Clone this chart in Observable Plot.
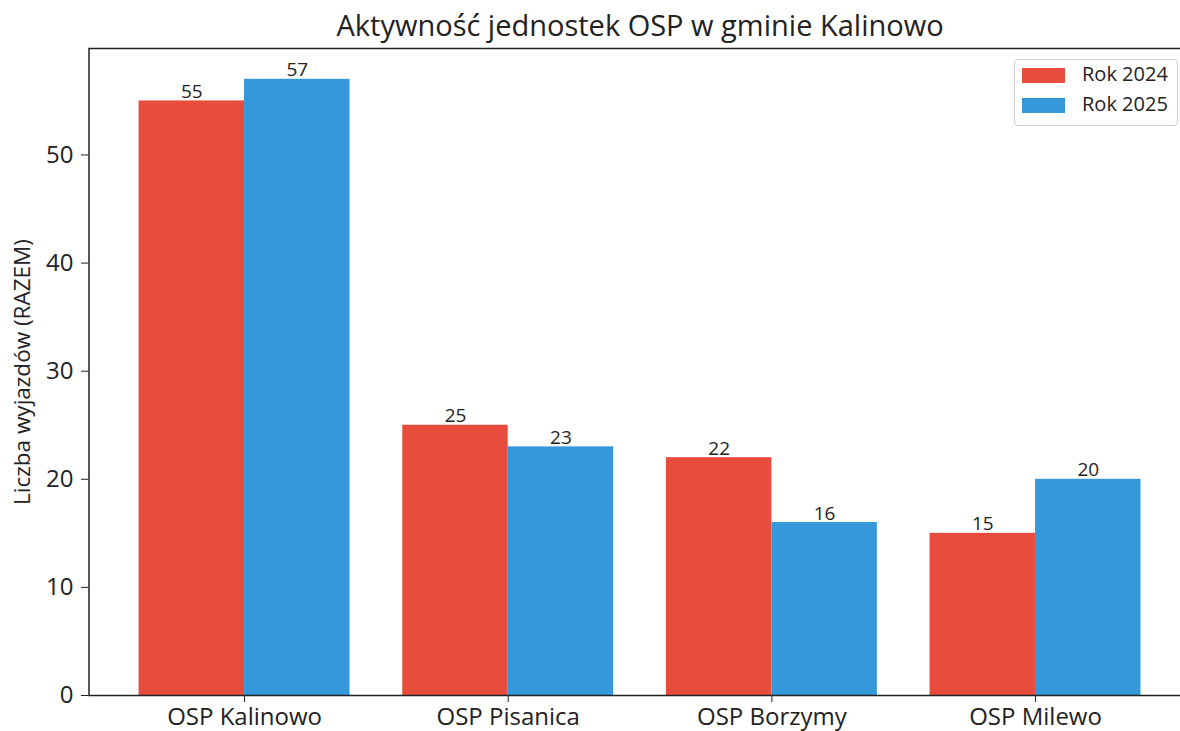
<!DOCTYPE html>
<html>
<head>
<meta charset="utf-8">
<script src="https://cdn.jsdelivr.net/npm/d3@7"></script>
<script src="https://cdn.jsdelivr.net/npm/@observablehq/plot@0.6"></script>
<style>
  html, body { margin: 0; padding: 0; background: #fff; overflow: hidden; }
  #wrap { position: relative; width: 1180px; height: 731px; overflow: hidden; font-family: "Open Sans", sans-serif; }
  #legend { position: absolute; left: 1014px; top: 59px; width: 164px; height: 67px; border: 1px solid #d0d0d0; border-radius: 4px; background: rgba(255,255,255,0.85); box-sizing: border-box; }
  .item { position: absolute; left: 0; font-size: 20px; color: #222; }
  .sw { position: absolute; left: 7px; width: 43px; height: 15px; }
  .lab { position: absolute; left: 67px; white-space: nowrap; line-height: 1; }
</style>
</head>
<body>
<div id="wrap"><div id="chart"></div><div id="legend"></div></div>
<script>
const title = "Aktywność jednostek OSP w gminie Kalinowo";
const yLabel = "Liczba wyjazdów (RAZEM)";
const categories = ["OSP Kalinowo", "OSP Pisanica", "OSP Borzymy", "OSP Milewo"];
const years = ["Rok 2024", "Rok 2025"];
const values2024 = [55, 25, 22, 15];
const values2025 = [57, 23, 16, 20];
const colors = ["#e74c3c", "#3498db"];
const yTicks = [0, 10, 20, 30, 40, 50];
const barWidth = 0.4;

const series = [values2024, values2025];
const rows = categories.flatMap((c, i) => years.map((yr, k) => ({
  cat: c, year: yr, v: series[k][i],
  x1: i + (k - 1) * barWidth, x2: i + k * barWidth
})));

const plot = Plot.plot({
  width: 1180,
  height: 731,
  marginLeft: 88.5,
  marginRight: -10.6,
  marginTop: 48,
  marginBottom: 36,
  style: { fontFamily: "Open Sans, sans-serif", fontSize: "24px", color: "#222", background: "#fff", overflow: "hidden" },
  x: { domain: [-0.59, 3.59], ticks: d3.range(categories.length), tickFormat: i => categories[i], tickSize: 7, tickPadding: 5, label: null },
  y: { domain: [0, 59.85], ticks: yTicks, tickSize: 7.5, tickPadding: 8, label: null },
  color: { domain: years, range: colors },
  marks: [
    Plot.rectY(rows, { x1: "x1", x2: "x2", y1: 0, y2: "v", fill: "year" }),
    Plot.text(rows, { x: d => (d.x1 + d.x2) / 2, y: "v", text: d => String(d.v), lineAnchor: "bottom", dy: -3, fontSize: 19, fill: "#222" }),
    Plot.frame({ stroke: "#222", strokeWidth: 1.5 }),
    Plot.text([title], { frameAnchor: "top", dy: -22, lineAnchor: "middle", fontSize: 29, fill: "#222" }),
    Plot.text([yLabel], { frameAnchor: "left", dx: -66, rotate: -90, textAnchor: "middle", lineAnchor: "middle", fontSize: 22.5, fill: "#222" })
  ]
});
document.getElementById("chart").appendChild(plot);

const legend = document.getElementById("legend");
years.forEach((yr, k) => {
  const item = document.createElement("div");
  item.className = "item";
  item.style.top = (8 + k * 30) + "px";
  item.innerHTML = `<div class="sw" style="background:${colors[k]}"></div><div class="lab" style="top:-4px">${yr}</div>`;
  legend.appendChild(item);
});
</script>
</body>
</html>
